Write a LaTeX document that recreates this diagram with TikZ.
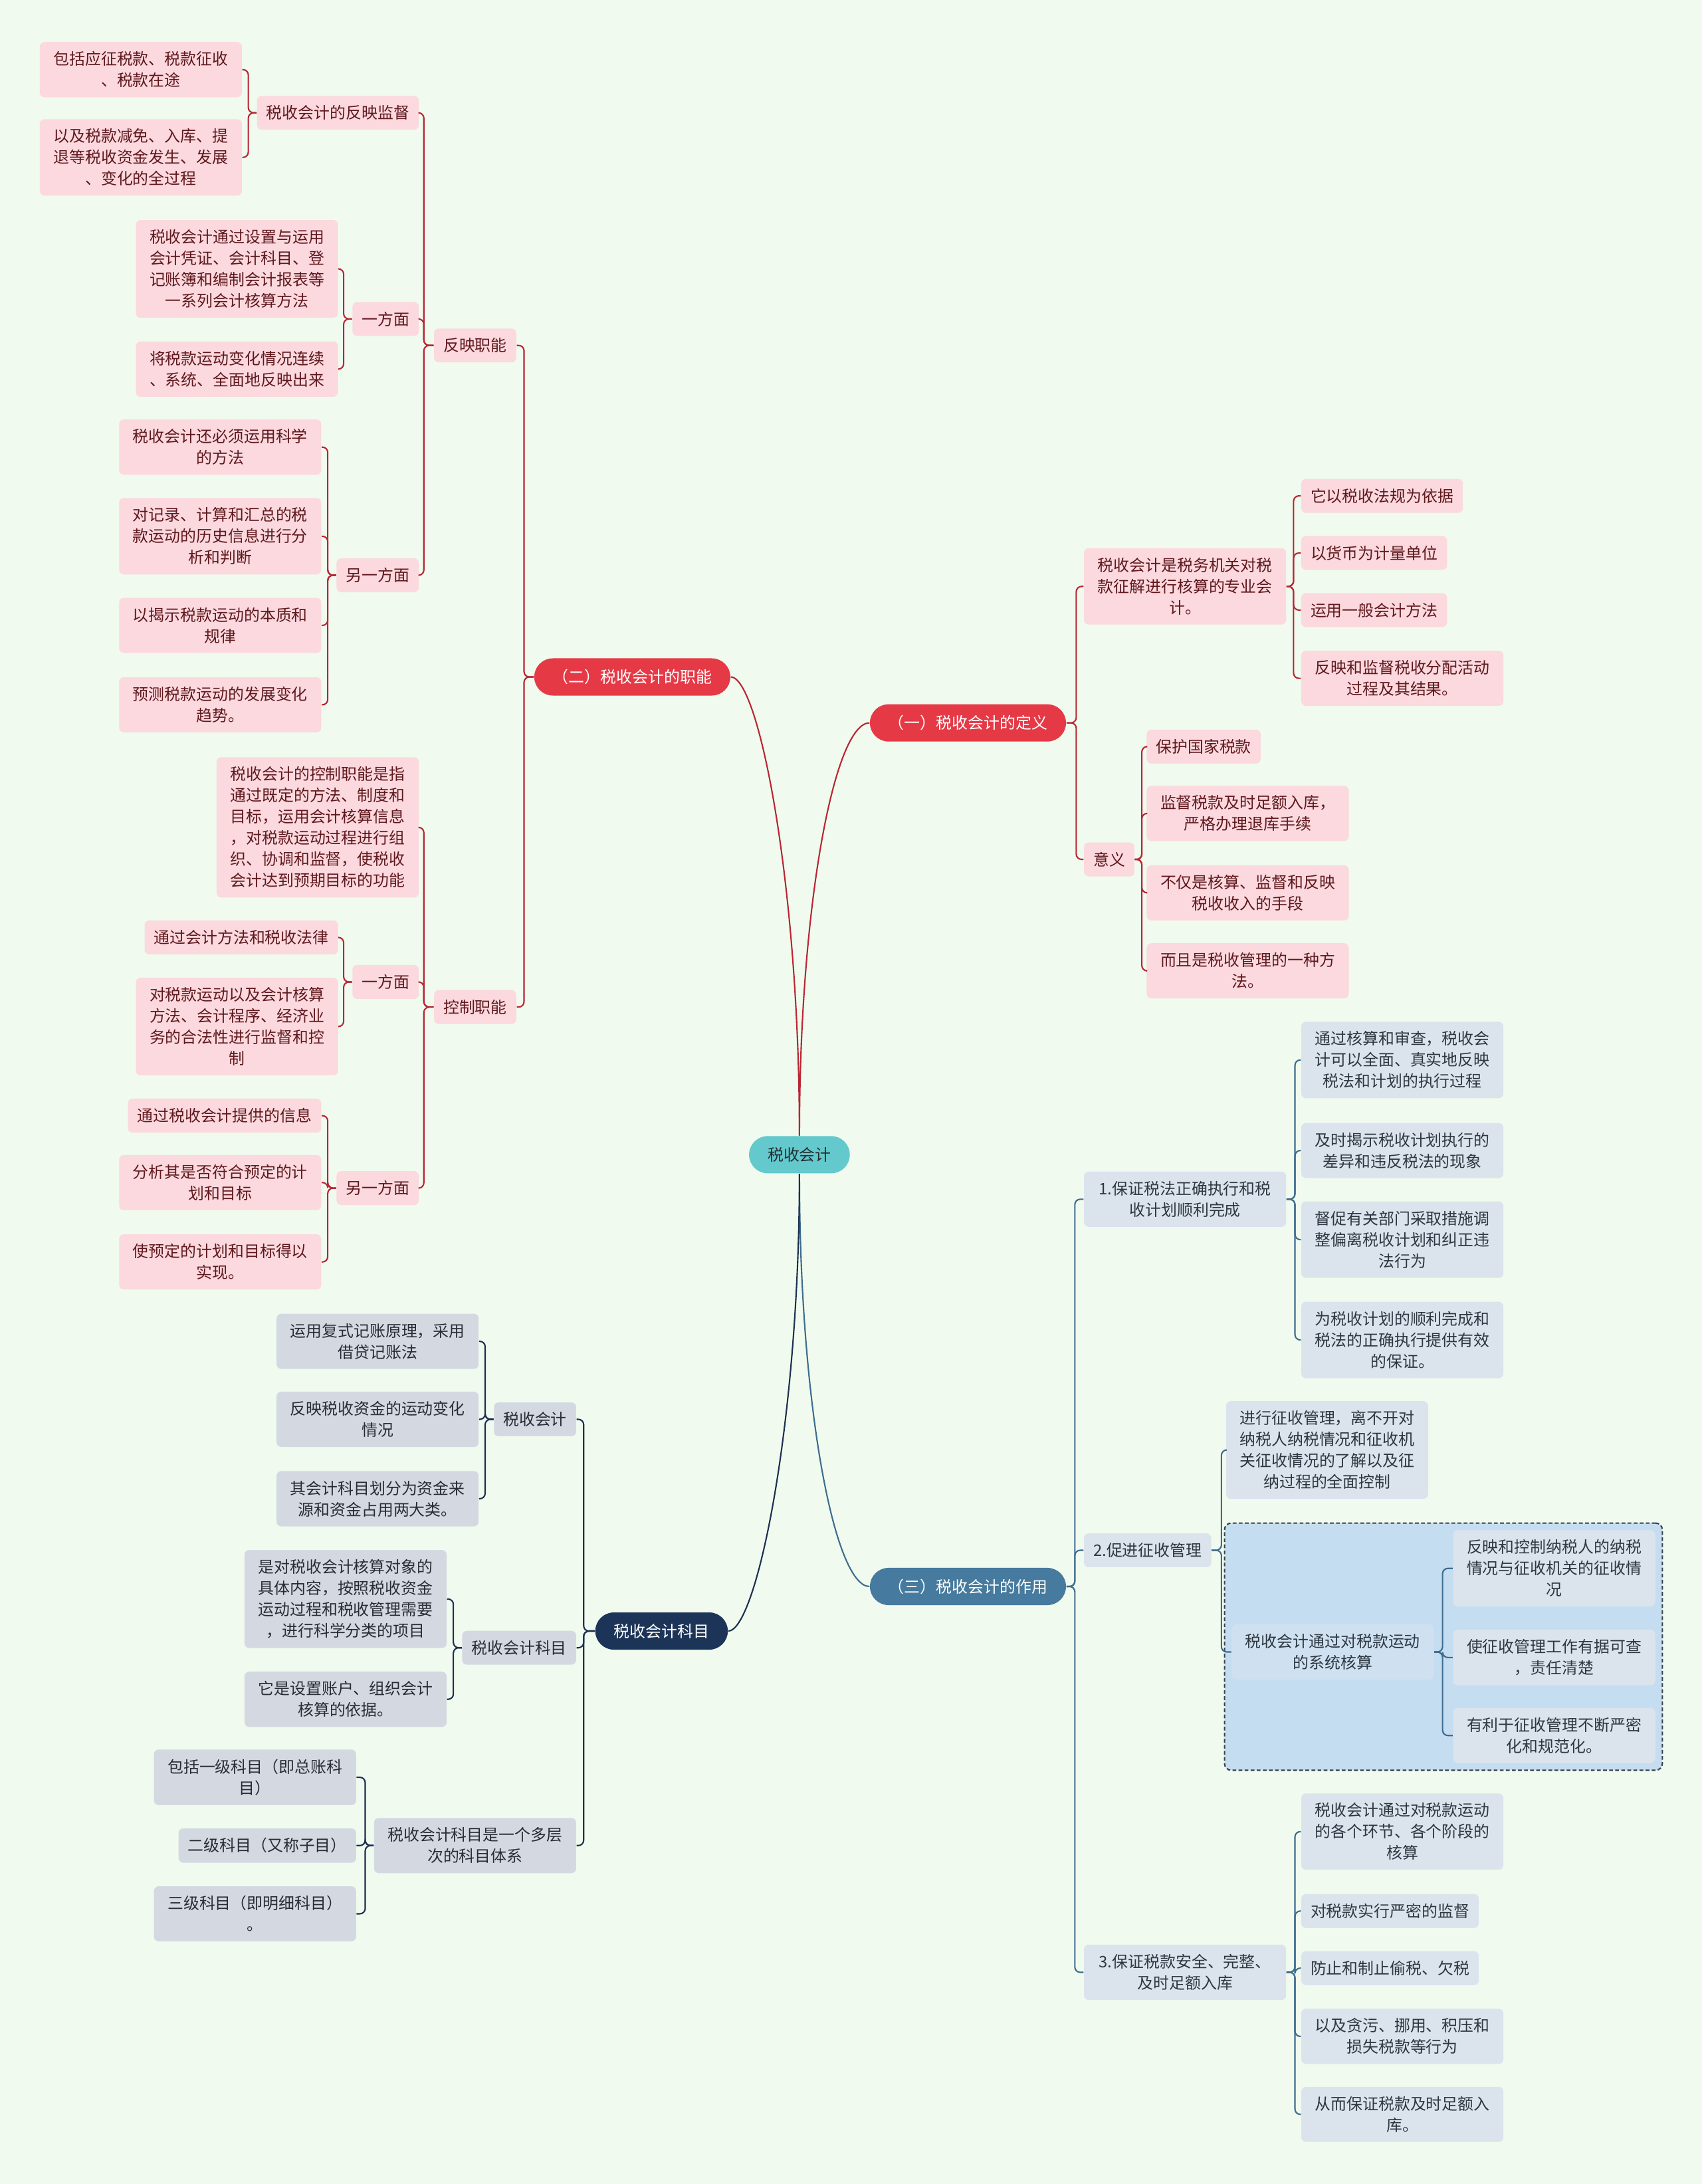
\documentclass[tikz,border=0pt]{standalone}
\usepackage{fontspec}
\setmainfont{Noto Sans CJK SC}
\usetikzlibrary{positioning, fit, backgrounds, calc}
\pgfdeclarelayer{pagefill}
\pgfsetlayers{pagefill,background,main}

\definecolor{pagebg}{RGB}{240,250,238}
\definecolor{rootteal}{RGB}{99,201,204}
\definecolor{roottext}{RGB}{35,45,50}
\definecolor{topicred}{RGB}{230,57,70}
\definecolor{topicsteel}{RGB}{70,122,158}
\definecolor{topicnavy}{RGB}{28,52,87}
\definecolor{leafpink}{RGB}{251,217,222}
\definecolor{pinktext}{RGB}{95,25,30}
\definecolor{leafgray}{RGB}{212,217,225}
\definecolor{graytext}{RGB}{40,44,55}
\definecolor{leafblue}{RGB}{219,228,237}
\definecolor{bluetext}{RGB}{45,55,65}
\definecolor{innerblue}{RGB}{207,225,241}
\definecolor{groupfill}{RGB}{197,221,241}
\definecolor{groupline}{RGB}{55,65,75}
\definecolor{linkred}{RGB}{184,38,52}
\definecolor{linksteel}{RGB}{62,108,142}
\definecolor{linknavy}{RGB}{28,48,80}

\begin{document}
\begin{tikzpicture}[
    x=0.2095mm, y=-0.2095mm,
    font=\fontsize{6.8}{9.1}\selectfont,
    root/.style={rectangle, rounded corners=2.8mm, minimum height=5.6mm, inner xsep=2.8mm, fill=rootteal, text=roottext},
    topic/.style={rectangle, rounded corners=2.8mm, minimum height=5.6mm, inner xsep=2.8mm, text=white},
    leaf/.style={rectangle, rounded corners=0.7mm, inner xsep=1.4mm, inner ysep=4.1pt, align=center},
    pinkleaf/.style={leaf, fill=leafpink, text=pinktext},
    grayleaf/.style={leaf, fill=leafgray, text=graytext},
    blueleaf/.style={leaf, fill=leafblue, text=bluetext},
    innerleaf/.style={leaf, fill=innerblue, text=bluetext},
    wrapbox/.style={text width=27.6mm},
    groupbox/.style={rectangle, rounded corners=1mm, inner sep=1mm, draw=groupline, line width=0.6pt, dash pattern=on 1.6pt off 1pt, fill=groupfill},
    link/.style={line width=0.6pt, rounded corners=0.8mm},
    redlink/.style={link, draw=linkred},
    steellink/.style={link, draw=linksteel},
    navylink/.style={link, draw=linknavy},
]

    \begin{pgfonlayer}{pagefill}
        \fill [pagebg] (0,0) rectangle (1222,1568);
    \end{pgfonlayer}

    % centre
    \node (tax_acc) [root] at (574,829) {税收会计};

    % (一) definition
    \node (def_topic) [topic, fill=topicred] at (695,519) {（一）税收会计的定义};
    \node (def_body) [pinkleaf, wrapbox, anchor=west] at (778,421) {税收会计是税务机关对税\\款征解进行核算的专业会\\计。};
    \node (def_law) [pinkleaf, anchor=west] at (934,356) {它以税收法规为依据};
    \node (def_money) [pinkleaf, anchor=west] at (934,397) {以货币为计量单位};
    \node (def_method) [pinkleaf, anchor=west] at (934,438) {运用一般会计方法};
    \node (def_result) [pinkleaf, wrapbox, anchor=west] at (934,487) {反映和监督税收分配活动\\过程及其结果。};
    \node (meaning) [pinkleaf, anchor=west] at (778,617) {意义};
    \node (mean_protect) [pinkleaf, anchor=west] at (823,536) {保护国家税款};
    \node (mean_monitor) [pinkleaf, wrapbox, anchor=west] at (823,584) {监督税款及时足额入库，\\严格办理退库手续};
    \node (mean_means) [pinkleaf, wrapbox, anchor=west] at (823,641) {不仅是核算、监督和反映\\税收收入的手段};
    \node (mean_way) [pinkleaf, wrapbox, anchor=west] at (823,697) {而且是税收管理的一种方\\法。};

    % (二) functions
    \node (func_topic) [topic, fill=topicred] at (454,486) {（二）税收会计的职能};
    \node (reflect_fn) [pinkleaf, anchor=east] at (371,248) {反映职能};
    \node (reflect_sup) [pinkleaf, anchor=east] at (301,81) {税收会计的反映监督};
    \node (sup_scope) [pinkleaf, wrapbox, anchor=east] at (174,50) {包括应征税款、税款征收\\、税款在途};
    \node (sup_process) [pinkleaf, wrapbox, anchor=east] at (174,113) {以及税款减免、入库、提\\退等税收资金发生、发展\\、变化的全过程};
    \node (ref_one) [pinkleaf, anchor=east] at (301,229) {一方面};
    \node (ref_methods) [pinkleaf, wrapbox, anchor=east] at (243,193) {税收会计通过设置与运用\\会计凭证、会计科目、登\\记账簿和编制会计报表等\\一系列会计核算方法};
    \node (ref_whole) [pinkleaf, wrapbox, anchor=east] at (243,265) {将税款运动变化情况连续\\、系统、全面地反映出来};
    \node (ref_other) [pinkleaf, anchor=east] at (301,413) {另一方面};
    \node (ref_science) [pinkleaf, wrapbox, anchor=east] at (231,321) {税收会计还必须运用科学\\的方法};
    \node (ref_analyse) [pinkleaf, wrapbox, anchor=east] at (231,385) {对记录、计算和汇总的税\\款运动的历史信息进行分\\析和判断};
    \node (ref_reveal) [pinkleaf, wrapbox, anchor=east] at (231,449) {以揭示税款运动的本质和\\规律};
    \node (ref_predict) [pinkleaf, wrapbox, anchor=east] at (231,506) {预测税款运动的发展变化\\趋势。};
    \node (control_fn) [pinkleaf, anchor=east] at (371,723) {控制职能};
    \node (ctl_def) [pinkleaf, wrapbox, anchor=east] at (301,594) {税收会计的控制职能是指\\通过既定的方法、制度和\\目标，运用会计核算信息\\，对税款运动过程进行组\\织、协调和监督，使税收\\会计达到预期目标的功能};
    \node (ctl_one) [pinkleaf, anchor=east] at (301,705) {一方面};
    \node (ctl_law) [pinkleaf, anchor=east] at (243,673) {通过会计方法和税收法律};
    \node (ctl_legal) [pinkleaf, wrapbox, anchor=east] at (243,737) {对税款运动以及会计核算\\方法、会计程序、经济业\\务的合法性进行监督和控\\制};
    \node (ctl_other) [pinkleaf, anchor=east] at (301,853) {另一方面};
    \node (ctl_info) [pinkleaf, anchor=east] at (231,801) {通过税收会计提供的信息};
    \node (ctl_check) [pinkleaf, wrapbox, anchor=east] at (231,849) {分析其是否符合预定的计\\划和目标};
    \node (ctl_reach) [pinkleaf, wrapbox, anchor=east] at (231,906) {使预定的计划和目标得以\\实现。};

    % (三) role
    \node (role_topic) [topic, fill=topicsteel] at (695,1139) {（三）税收会计的作用};
    \node (role_law) [blueleaf, wrapbox, anchor=west] at (778,861) {1.保证税法正确执行和税\\收计划顺利完成};
    \node (law_review) [blueleaf, wrapbox, anchor=west] at (934,761) {通过核算和审查，税收会\\计可以全面、真实地反映\\税法和计划的执行过程};
    \node (law_reveal) [blueleaf, wrapbox, anchor=west] at (934,826) {及时揭示税收计划执行的\\差异和违反税法的现象};
    \node (law_urge) [blueleaf, wrapbox, anchor=west] at (934,890) {督促有关部门采取措施调\\整偏离税收计划和纠正违\\法行为};
    \node (law_ensure) [blueleaf, wrapbox, anchor=west] at (934,962) {为税收计划的顺利完成和\\税法的正确执行提供有效\\的保证。};
    \node (role_collect) [blueleaf, anchor=west] at (778,1113) {2.促进征收管理};
    \node (col_control) [blueleaf, wrapbox, anchor=west] at (880,1041) {进行征收管理，离不开对\\纳税人纳税情况和征收机\\关征收情况的了解以及征\\纳过程的全面控制};
    \node (col_calc) [innerleaf, wrapbox, anchor=west] at (884,1186) {税收会计通过对税款运动\\的系统核算};
    \node (col_reflect) [blueleaf, wrapbox, anchor=west] at (1043,1126) {反映和控制纳税人的纳税\\情况与征收机关的征收情\\况};
    \node (col_trace) [blueleaf, wrapbox, anchor=west] at (1043,1190) {使征收管理工作有据可查\\，责任清楚};
    \node (col_norm) [blueleaf, wrapbox, anchor=west] at (1043,1246) {有利于征收管理不断严密\\化和规范化。};
    \node (role_safe) [blueleaf, wrapbox, anchor=west] at (778,1416) {3.保证税款安全、完整、\\及时足额入库};
    \node (safe_calc) [blueleaf, wrapbox, anchor=west] at (934,1315) {税收会计通过对税款运动\\的各个环节、各个阶段的\\核算};
    \node (safe_watch) [blueleaf, anchor=west] at (934,1372) {对税款实行严密的监督};
    \node (safe_stop) [blueleaf, anchor=west] at (934,1413) {防止和制止偷税、欠税};
    \node (safe_misuse) [blueleaf, wrapbox, anchor=west] at (934,1462) {以及贪污、挪用、积压和\\损失税款等行为};
    \node (safe_store) [blueleaf, wrapbox, anchor=west] at (934,1518) {从而保证税款及时足额入\\库。};

    \begin{scope}[on background layer]
        \node (col_group) [groupbox, fit=(col_calc)(col_reflect)(col_trace)(col_norm)] {};
    \end{scope}

    % subjects
    \node (subj_topic) [topic, fill=topicnavy] at (475,1171) {税收会计科目};
    \node (subj_acc) [grayleaf, anchor=east] at (414,1019) {税收会计};
    \node (acc_double) [grayleaf, wrapbox, anchor=east] at (344,963) {运用复式记账原理，采用\\借贷记账法};
    \node (acc_change) [grayleaf, wrapbox, anchor=east] at (344,1019) {反映税收资金的运动变化\\情况};
    \node (acc_split) [grayleaf, wrapbox, anchor=east] at (344,1076) {其会计科目划分为资金来\\源和资金占用两大类。};
    \node (subj_item) [grayleaf, anchor=east] at (414,1183) {税收会计科目};
    \node (item_def) [grayleaf, wrapbox, anchor=east] at (321,1148) {是对税收会计核算对象的\\具体内容，按照税收资金\\运动过程和税收管理需要\\，进行科学分类的项目};
    \node (item_basis) [grayleaf, wrapbox, anchor=east] at (321,1220) {它是设置账户、组织会计\\核算的依据。};
    \node (subj_level) [grayleaf, wrapbox, anchor=east] at (414,1325) {税收会计科目是一个多层\\次的科目体系};
    \node (level_one) [grayleaf, wrapbox, anchor=east] at (256,1276) {包括一级科目（即总账科\\目）};
    \node (level_two) [grayleaf, anchor=east] at (256,1325) {二级科目（又称子目）};
    \node (level_three) [grayleaf, wrapbox, anchor=east] at (256,1374) {三级科目（即明细科目）\\。};

    % centre curves
    \draw [redlink] (tax_acc.north) .. controls +(0,-166) and +(-25,0) .. (def_topic.west);
    \draw [redlink] (tax_acc.north) .. controls +(0,-180) and +(20,0) .. (func_topic.east);
    \draw [steellink] (tax_acc.south) .. controls +(0,166) and +(-25,0) .. (role_topic.west);
    \draw [navylink] (tax_acc.south) .. controls +(0,180) and +(20,0) .. (subj_topic.east);

    \draw [redlink] (def_topic.east) -- ++(7,0) |- (def_body.west);
    \draw [redlink] (def_topic.east) -- ++(7,0) |- (meaning.west);
    \draw [redlink] (def_body.east) -- ++(5,0) |- (def_law.west);
    \draw [redlink] (def_body.east) -- ++(5,0) |- (def_money.west);
    \draw [redlink] (def_body.east) -- ++(5,0) |- (def_method.west);
    \draw [redlink] (def_body.east) -- ++(5,0) |- (def_result.west);
    \draw [redlink] (meaning.east) -- ++(5,0) |- (mean_protect.west);
    \draw [redlink] (meaning.east) -- ++(5,0) |- (mean_monitor.west);
    \draw [redlink] (meaning.east) -- ++(5,0) |- (mean_means.west);
    \draw [redlink] (meaning.east) -- ++(5,0) |- (mean_way.west);

    \draw [redlink] (func_topic.west) -- ++(-7,0) |- (reflect_fn.east);
    \draw [redlink] (func_topic.west) -- ++(-7,0) |- (control_fn.east);
    \draw [redlink] (reflect_fn.west) -- ++(-7,0) |- (reflect_sup.east);
    \draw [redlink] (reflect_fn.west) -- ++(-7,0) |- (ref_one.east);
    \draw [redlink] (reflect_fn.west) -- ++(-7,0) |- (ref_other.east);
    \draw [redlink] (reflect_sup.west) -- ++(-6,0) |- (sup_scope.east);
    \draw [redlink] (reflect_sup.west) -- ++(-6,0) |- (sup_process.east);
    \draw [redlink] (ref_one.west) -- ++(-6,0) |- (ref_methods.east);
    \draw [redlink] (ref_one.west) -- ++(-6,0) |- (ref_whole.east);
    \draw [redlink] (ref_other.west) -- ++(-6,0) |- (ref_science.east);
    \draw [redlink] (ref_other.west) -- ++(-6,0) |- (ref_analyse.east);
    \draw [redlink] (ref_other.west) -- ++(-6,0) |- (ref_reveal.east);
    \draw [redlink] (ref_other.west) -- ++(-6,0) |- (ref_predict.east);
    \draw [redlink] (control_fn.west) -- ++(-7,0) |- (ctl_def.east);
    \draw [redlink] (control_fn.west) -- ++(-7,0) |- (ctl_one.east);
    \draw [redlink] (control_fn.west) -- ++(-7,0) |- (ctl_other.east);
    \draw [redlink] (ctl_one.west) -- ++(-6,0) |- (ctl_law.east);
    \draw [redlink] (ctl_one.west) -- ++(-6,0) |- (ctl_legal.east);
    \draw [redlink] (ctl_other.west) -- ++(-6,0) |- (ctl_info.east);
    \draw [redlink] (ctl_other.west) -- ++(-6,0) |- (ctl_check.east);
    \draw [redlink] (ctl_other.west) -- ++(-6,0) |- (ctl_reach.east);

    \draw [steellink] (role_topic.east) -- ++(6,0) |- (role_law.west);
    \draw [steellink] (role_topic.east) -- ++(6,0) |- (role_collect.west);
    \draw [steellink] (role_topic.east) -- ++(6,0) |- (role_safe.west);
    \draw [steellink] (role_law.east) -- ++(6,0) |- (law_review.west);
    \draw [steellink] (role_law.east) -- ++(6,0) |- (law_reveal.west);
    \draw [steellink] (role_law.east) -- ++(6,0) |- (law_urge.west);
    \draw [steellink] (role_law.east) -- ++(6,0) |- (law_ensure.west);
    \draw [steellink] (role_collect.east) -- ++(7,0) |- (col_control.west);
    \draw [steellink] (role_collect.east) -- ++(7,0) |- (col_calc.west);
    \draw [steellink] (col_calc.east) -- ++(6,0) |- (col_reflect.west);
    \draw [steellink] (col_calc.east) -- ++(6,0) |- (col_trace.west);
    \draw [steellink] (col_calc.east) -- ++(6,0) |- (col_norm.west);
    \draw [steellink] (role_safe.east) -- ++(6,0) |- (safe_calc.west);
    \draw [steellink] (role_safe.east) -- ++(6,0) |- (safe_watch.west);
    \draw [steellink] (role_safe.east) -- ++(6,0) |- (safe_stop.west);
    \draw [steellink] (role_safe.east) -- ++(6,0) |- (safe_misuse.west);
    \draw [steellink] (role_safe.east) -- ++(6,0) |- (safe_store.west);

    \draw [navylink] (subj_topic.west) -- ++(-8,0) |- (subj_acc.east);
    \draw [navylink] (subj_topic.west) -- ++(-8,0) |- (subj_item.east);
    \draw [navylink] (subj_topic.west) -- ++(-8,0) |- (subj_level.east);
    \draw [navylink] (subj_acc.west) -- ++(-6,0) |- (acc_double.east);
    \draw [navylink] (subj_acc.west) -- ++(-6,0) |- (acc_change.east);
    \draw [navylink] (subj_acc.west) -- ++(-6,0) |- (acc_split.east);
    \draw [navylink] (subj_item.west) -- ++(-6,0) |- (item_def.east);
    \draw [navylink] (subj_item.west) -- ++(-6,0) |- (item_basis.east);
    \draw [navylink] (subj_level.west) -- ++(-6,0) |- (level_one.east);
    \draw [navylink] (subj_level.west) -- ++(-6,0) |- (level_two.east);
    \draw [navylink] (subj_level.west) -- ++(-6,0) |- (level_three.east);

\end{tikzpicture}
\end{document}
